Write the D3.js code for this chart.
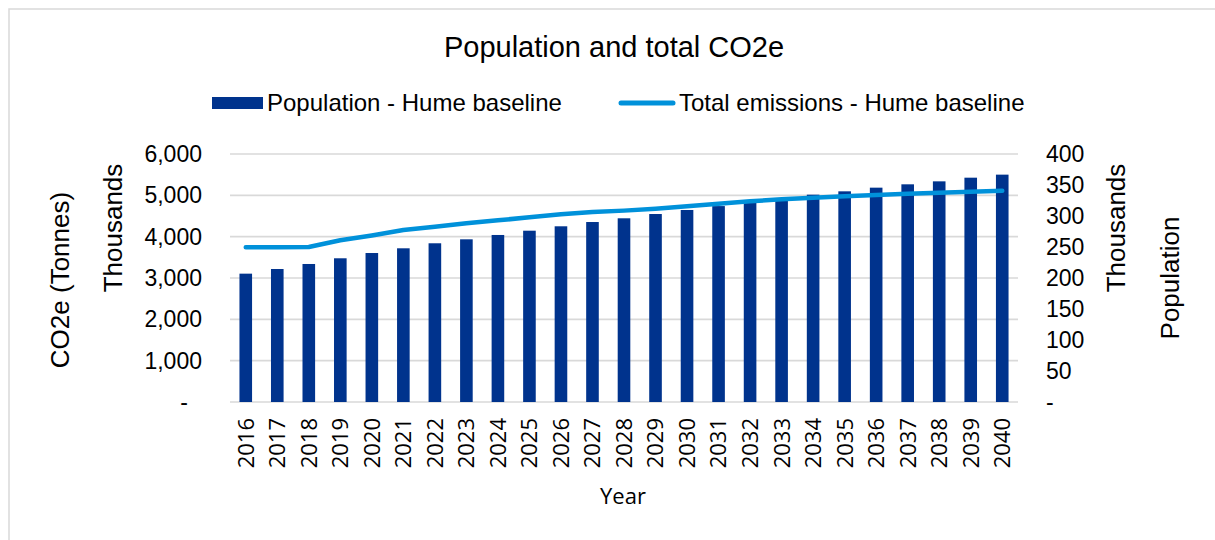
<!DOCTYPE html>
<html>
<head>
<meta charset="utf-8">
<script src="https://cdn.jsdelivr.net/npm/d3@7/dist/d3.min.js"></script>
<style>
  html, body { margin: 0; padding: 0; background: #ffffff; }
  svg { display: block; }
  text { font-family: "Liberation Sans", Arial, sans-serif; fill: #000000; }
</style>
</head>
<body>
<svg id="chart" width="1215" height="540"></svg>
<script>
// Hume baseline projections, 2016–2040
const years = ["2016","2017","2018","2019","2020","2021","2022","2023","2024","2025","2026","2027","2028",
               "2029","2030","2031","2032","2033","2034","2035","2036","2037","2038","2039","2040"];
// Population (thousands of people)
const population = [207, 214.5, 222.6, 231.8, 240.3, 247.9, 256, 262.4, 269.4, 276.3, 283.4, 290.3, 296.3,
                    303.2, 309.7, 316, 322.3, 328.4, 334.4, 339.8, 345.7, 351.1, 355.9, 361.8, 366.7];
// Total emissions (thousands of tonnes CO2e)
const emissions = [3742, 3742, 3750, 3915, 4030, 4161, 4242, 4323, 4395, 4468, 4540, 4597, 4630,
                   4677, 4734, 4798, 4855, 4903, 4944, 4976, 5008, 5040, 5065, 5085, 5108];
const leftTicks = [0, 1000, 2000, 3000, 4000, 5000, 6000];
const rightTicks = [0, 50, 100, 150, 200, 250, 300, 350, 400];

const title = "Population and total CO2e";
const barName = "Population - Hume baseline";
const lineName = "Total emissions - Hume baseline";

const svg = d3.select("#chart");
const plot = { left: 230, right: 1018, top: 154, bottom: 402 };
const gridColor = "#d9d9d9";
const barColor = "#00338d";
const lineColor = "#0091da";

// chart area outline
svg.append("rect")
  .attr("x", 9).attr("y", 9).attr("width", 1400).attr("height", 700)
  .attr("fill", "none").attr("stroke", gridColor).attr("stroke-width", 1.5);

const x = d3.scaleBand().domain(years).range([plot.left, plot.right])
  .paddingInner(0.6).paddingOuter(0.3);
const yLeft = d3.scaleLinear().domain([0, 6000]).range([plot.bottom, plot.top]);
const yRight = d3.scaleLinear().domain([0, 400]).range([plot.bottom, plot.top]);

// horizontal gridlines
svg.append("g").selectAll("line").data(leftTicks).join("line")
  .attr("x1", plot.left).attr("x2", plot.right)
  .attr("y1", d => yLeft(d)).attr("y2", d => yLeft(d))
  .attr("stroke", gridColor).attr("stroke-width", 1.6);

// population bars on the secondary axis
svg.append("g").selectAll("rect").data(years).join("rect")
  .attr("x", d => x(d))
  .attr("width", x.bandwidth())
  .attr("y", (d, i) => yRight(population[i]))
  .attr("height", (d, i) => yRight(0) - yRight(population[i]))
  .attr("fill", barColor);

// emissions line on the primary axis
const line = d3.line()
  .x((d, i) => x(years[i]) + x.bandwidth() / 2)
  .y(d => yLeft(d));
svg.append("path").datum(emissions)
  .attr("d", line)
  .attr("fill", "none").attr("stroke", lineColor)
  .attr("stroke-width", 4.5).attr("stroke-linecap", "round").attr("stroke-linejoin", "round");

// left axis
const fmt = d3.format(",");
const leftAxis = svg.append("g").attr("transform", `translate(${plot.left},0)`)
  .call(d3.axisLeft(yLeft).tickValues(leftTicks).tickSize(0).tickPadding(28)
    .tickFormat(d => d === 0 ? "-" : fmt(d)));
leftAxis.select(".domain").remove();
leftAxis.selectAll("text").style("font-size", "23px")
  .attr("font-family", "'Liberation Sans', Arial, sans-serif")
  .attr("dx", d => d === 0 ? -14 : 0);

// right axis
const rightAxis = svg.append("g").attr("transform", `translate(${plot.right},0)`)
  .call(d3.axisRight(yRight).tickValues(rightTicks).tickSize(0).tickPadding(28)
    .tickFormat(d => d === 0 ? "-" : fmt(d)));
rightAxis.select(".domain").remove();
rightAxis.selectAll("text").style("font-size", "23px")
  .attr("font-family", "'Liberation Sans', Arial, sans-serif");

// category labels
svg.append("g").selectAll("text").data(years).join("text")
  .attr("transform", d => `translate(${x(d) + x.bandwidth() / 2},418) rotate(-90)`)
  .attr("text-anchor", "end").attr("dy", "0.36em")
  .style("font-family", "'Open Sans', sans-serif").style("font-size", "22px")
  .text(d => d);

// titles
svg.append("text").attr("x", 614).attr("y", 57).attr("text-anchor", "middle")
  .style("font-size", "29px").text(title);

svg.append("text").attr("x", 623).attr("y", 504).attr("text-anchor", "middle")
  .style("font-family", "'Open Sans', sans-serif").style("font-size", "22px").text("Year");

const vTitle = (cx, cy, txt) => svg.append("text")
  .attr("transform", `translate(${cx},${cy}) rotate(-90)`)
  .attr("text-anchor", "middle").attr("dy", "0.35em")
  .style("font-size", "26px").text(txt);
vTitle(60, 280, "CO2e (Tonnes)");
vTitle(113, 228, "Thousands");
vTitle(1116, 228, "Thousands");
vTitle(1170, 278, "Population");

// legend
const legend = svg.append("g");
legend.append("rect").attr("x", 212).attr("y", 97).attr("width", 51).attr("height", 12).attr("fill", barColor);
legend.append("text").attr("x", 267).attr("y", 103).attr("dy", "0.35em")
  .style("font-size", "24px").text(barName);
legend.append("line").attr("x1", 621).attr("x2", 673).attr("y1", 103).attr("y2", 103)
  .attr("stroke", lineColor).attr("stroke-width", 5).attr("stroke-linecap", "round");
legend.append("text").attr("x", 679).attr("y", 103).attr("dy", "0.35em")
  .style("font-size", "24px").text(lineName);
</script>
</body>
</html>
